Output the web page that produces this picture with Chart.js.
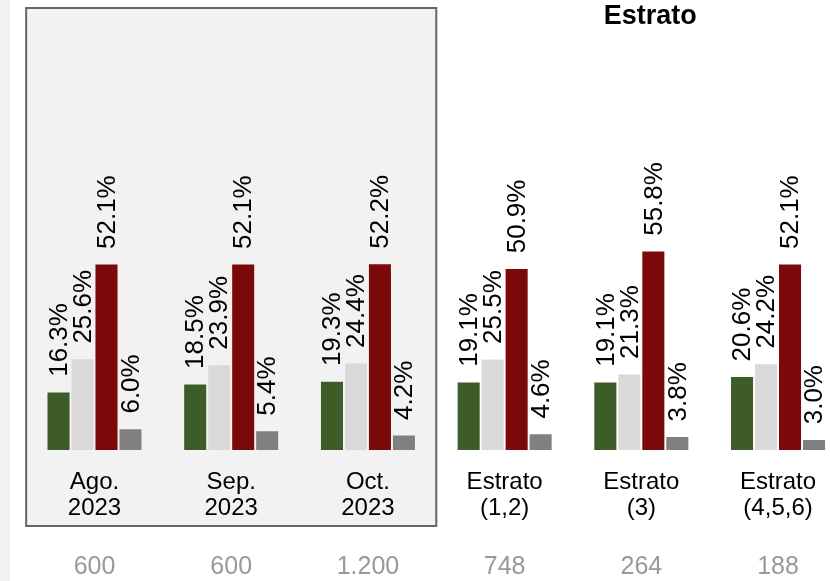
<!DOCTYPE html>
<html>
<head>
<meta charset="utf-8">
<script src="https://cdn.jsdelivr.net/npm/chart.js@4.4.0/dist/chart.umd.min.js"></script>
<style>
  html, body { margin: 0; padding: 0; background: #ffffff; }
  #wrap { width: 830px; height: 581px; position: relative; }
</style>
</head>
<body>
<div id="wrap"><canvas id="c" width="830" height="581"></canvas></div>
<script>
// ---- data ----
const categories = [
  ['Ago.', '2023'],
  ['Sep.', '2023'],
  ['Oct.', '2023'],
  ['Estrato', '(1,2)'],
  ['Estrato', '(3)'],
  ['Estrato', '(4,5,6)']
];
const counts = ['600', '600', '1.200', '748', '264', '188'];
const seriesA = [16.3, 18.5, 19.3, 19.1, 19.1, 20.6];
const seriesB = [25.6, 23.9, 24.4, 25.5, 21.3, 24.2];
const seriesC = [52.1, 52.1, 52.2, 50.9, 55.8, 52.1];
const seriesD = [6.0, 5.4, 4.2, 4.6, 3.8, 3.0];
const groupTitle = 'Estrato';
const highlightedGroups = [0, 1, 2];

const FONT = '"Liberation Sans", Arial, Helvetica, sans-serif';
const colors = ['#3e5c28', '#d9d9d9', '#7b0909', '#808080'];
const seriesList = [seriesA, seriesB, seriesC, seriesD];

const toPoints = arr => arr.map((v, i) => ({ x: i, y: v }));
const xMin = -0.6913, xMax = 5.380;

const fixTicks = scale => { scale.ticks = categories.map((_, i) => ({ value: i })); };

const backdrop = {
  id: 'backdrop',
  beforeDraw(chart) {
    const ctx = chart.ctx;
    const xs = chart.scales.x;
    ctx.save();
    ctx.fillStyle = '#ffffff';
    ctx.fillRect(0, 0, chart.width, chart.height);
    ctx.fillStyle = '#f2f2f2';
    ctx.fillRect(0, 0, 10, chart.height);
    const l = xs.getPixelForValue(highlightedGroups[0] - 0.5);
    const r = xs.getPixelForValue(highlightedGroups[highlightedGroups.length - 1] + 0.5);
    ctx.fillStyle = '#f2f2f2';
    ctx.fillRect(l, 8, r - l, 518);
    ctx.strokeStyle = '#666666';
    ctx.lineWidth = 2;
    ctx.strokeRect(l, 8, r - l, 518);
    // group title
    ctx.fillStyle = '#000';
    ctx.font = 'bold 27px ' + FONT;
    ctx.textAlign = 'center';
    ctx.textBaseline = 'middle';
    ctx.fillText(groupTitle, xs.getPixelForValue(4) + 9, 17);
    ctx.restore();
  }
};

const valueLabels = {
  id: 'valueLabels',
  afterDatasetsDraw(chart) {
    const ctx = chart.ctx;
    ctx.save();
    ctx.font = '26px ' + FONT;
    ctx.fillStyle = '#000';
    ctx.textAlign = 'left';
    ctx.textBaseline = 'middle';
    chart.data.datasets.forEach((ds, di) => {
      const meta = chart.getDatasetMeta(di);
      meta.data.forEach((bar, i) => {
        const v = ds.data[i].y;
        ctx.save();
        ctx.translate(bar.x, bar.y - 15);
        ctx.rotate(-Math.PI / 2);
        ctx.fillText(v.toFixed(1) + '%', 0, 1);
        ctx.restore();
      });
    });
    ctx.restore();
  }
};

new Chart(document.getElementById('c'), {
  type: 'bar',
  data: {
    datasets: seriesList.map((s, k) => ({
      data: toPoints(s),
      backgroundColor: colors[k],
      borderColor: 'rgba(255,255,255,0.55)',
      borderWidth: 0.6,
      categoryPercentage: 0.702,
      barPercentage: 0.97
    }))
  },
  options: {
    responsive: false,
    animation: false,
    layout: { padding: { top: 93, left: 0, right: 0, bottom: 0 } },
    plugins: { legend: { display: false }, tooltip: { enabled: false } },
    scales: {
      x: {
        type: 'linear',
        position: 'bottom',
        offset: false,
        min: xMin, max: xMax,
        afterBuildTicks: fixTicks,
        afterFit: s => { s.height = 90; s.paddingLeft = 0; s.paddingRight = 0; },
        grid: { display: false, drawTicks: false, offset: false },
        border: { display: false },
        ticks: {
          padding: 19,
          maxRotation: 0,
          autoSkip: false,
          color: '#000',
          font: { family: FONT, size: 24, lineHeight: 1.08 },
          callback: v => categories[v]
        }
      },
      x2: {
        type: 'linear',
        position: 'bottom',
        offset: false,
        min: xMin, max: xMax,
        afterBuildTicks: fixTicks,
        afterFit: s => { s.height = 41; s.paddingLeft = 0; s.paddingRight = 0; },
        grid: { display: false, drawTicks: false, offset: false },
        border: { display: false },
        ticks: {
          padding: 12,
          maxRotation: 0,
          autoSkip: false,
          color: '#999999',
          font: { family: FONT, size: 25 },
          callback: v => counts[v]
        }
      },
      y: {
        display: false,
        min: 0, max: 100
      }
    }
  },
  plugins: [backdrop, valueLabels]
});
</script>
</body>
</html>
